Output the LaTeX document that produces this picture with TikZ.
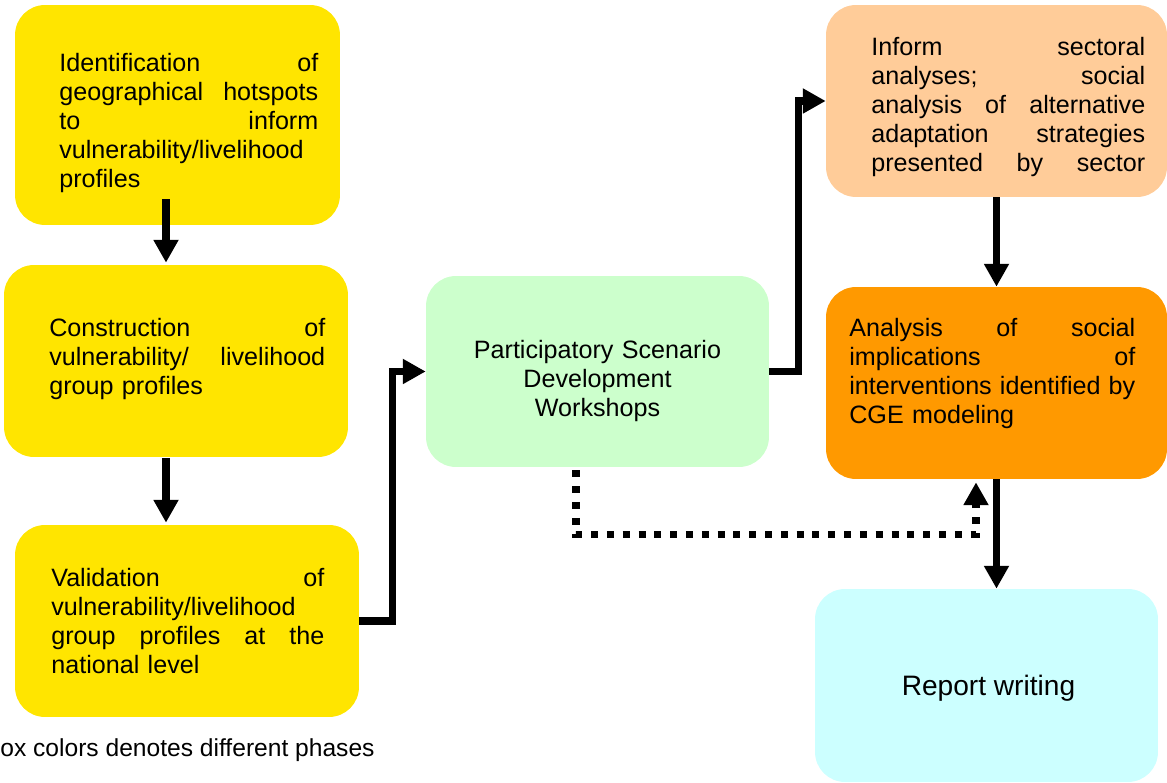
\documentclass[tikz,border=0pt]{standalone}
\usepackage{fontspec}
\setmainfont{Liberation Sans}
\usetikzlibrary{positioning,arrows.meta}

\definecolor{phaseyellow}{RGB}{255,229,0}
\definecolor{phasegreen}{RGB}{204,255,204}
\definecolor{phasepeach}{RGB}{255,204,153}
\definecolor{phaseorange}{RGB}{255,153,0}
\definecolor{phasecyan}{RGB}{204,255,255}

% one fully justified line of a box text
\newcommand{\jline}[1]{\hbox to \hsize{\spaceskip=0.3em plus 10em\relax #1}}

\tikzset{
 phase/.style={rounded corners=0.6cm, inner sep=0pt},
 boxtext/.style={font=\fontsize{14.3}{16.5}\selectfont, inner sep=0pt, align=left, anchor=base west},
 flow/.style={line width=4pt, -{Triangle[length=13pt,width=13.5pt]}},
 feedback/.style={flow, dash pattern=on 4pt off 5pt}
}

\begin{document}
\begin{tikzpicture}[x=0.02cm, y=-0.02cm]
 \useasboundingbox (0,0) rectangle (1167,783);

 %Boxes
 \node (ident) [phase, fill=phaseyellow, minimum width=6.5cm, minimum height=4.4cm] at (177.5,115) {};
 \node (constr) [phase, fill=phaseyellow, minimum width=6.88cm, minimum height=3.84cm] at (176,361) {};
 \node (valid) [phase, fill=phaseyellow, minimum width=6.88cm, minimum height=3.84cm] at (187,621) {};
 \node (psdw) [phase, fill=phasegreen, minimum width=6.86cm, minimum height=3.82cm] at (597.5,371.5) {};
 \node (inform) [phase, fill=phasepeach, minimum width=6.82cm, minimum height=3.84cm] at (996.5,101) {};
 \node (social) [phase, fill=phaseorange, minimum width=6.82cm, minimum height=3.84cm] at (996.5,383) {};
 \node (report) [phase, fill=phasecyan, minimum width=6.86cm, minimum height=3.86cm] at (986.5,685.5) {};

 %Texts
 \node (identtext) [boxtext, text width=5.18cm] at (59,72) {\jline{Identification of}
  \jline{geographical hotspots}
  \jline{to inform}
  vulnerability/livelihood\\
  profiles};
 \node (constrtext) [boxtext, text width=5.52cm] at (49,337) {\jline{Construction of}
  \jline{vulnerability/ livelihood}
  group profiles};
 \node (validtext) [boxtext, text width=5.46cm] at (51,587) {\jline{Validation of}
  vulnerability/livelihood\\
  \jline{group profiles at the}
  national level};
 \node (psdwtext) [boxtext, anchor=base, align=center, text width=5.2cm] at (597.5,359) {Participatory Scenario\\
  Development\\
  Workshops};
 \node (informtext) [boxtext, text width=5.48cm] at (871,56) {\jline{Inform sectoral}
  \jline{analyses; social}
  \jline{analysis of alternative}
  \jline{adaptation strategies}
  \jline{presented by sector}};
 \node (socialtext) [boxtext, text width=5.72cm] at (849,337) {\jline{Analysis of social}
  \jline{implications of}
  \jline{interventions identified by}
  CGE modeling};
 \node (reporttext) [boxtext, anchor=base, font=\fontsize{16}{19}\selectfont] at (988.5,696) {Report writing};
 \node (phasenote) [boxtext, font=\fontsize{14}{16.5}\selectfont] at (0,757) {ox colors denotes different phases};

 %Arrows
 \draw[flow] ([shift={(-11.5,-26)}]ident.south) -- ([shift={(-10,-2)}]constr.north);
 \draw[flow] ([shift={(-10,1)}]constr.south) -- ([shift={(-21,-2)}]valid.north);
 \draw[flow] (valid.east) -- ++(33,0) |- (psdw.west);
 \draw[flow] (psdw.east) -- ++(29,0) |- (inform.west);
 \draw[flow] (inform.south) -- (social.north);
 \draw[flow] (social.south) -- (social.south |- report.north);
 \draw[feedback] ([shift={(-21.5,3)}]psdw.south) -- ++(0,64) -| ([shift={(-20.5,3)}]social.south);

\end{tikzpicture}
\end{document}
